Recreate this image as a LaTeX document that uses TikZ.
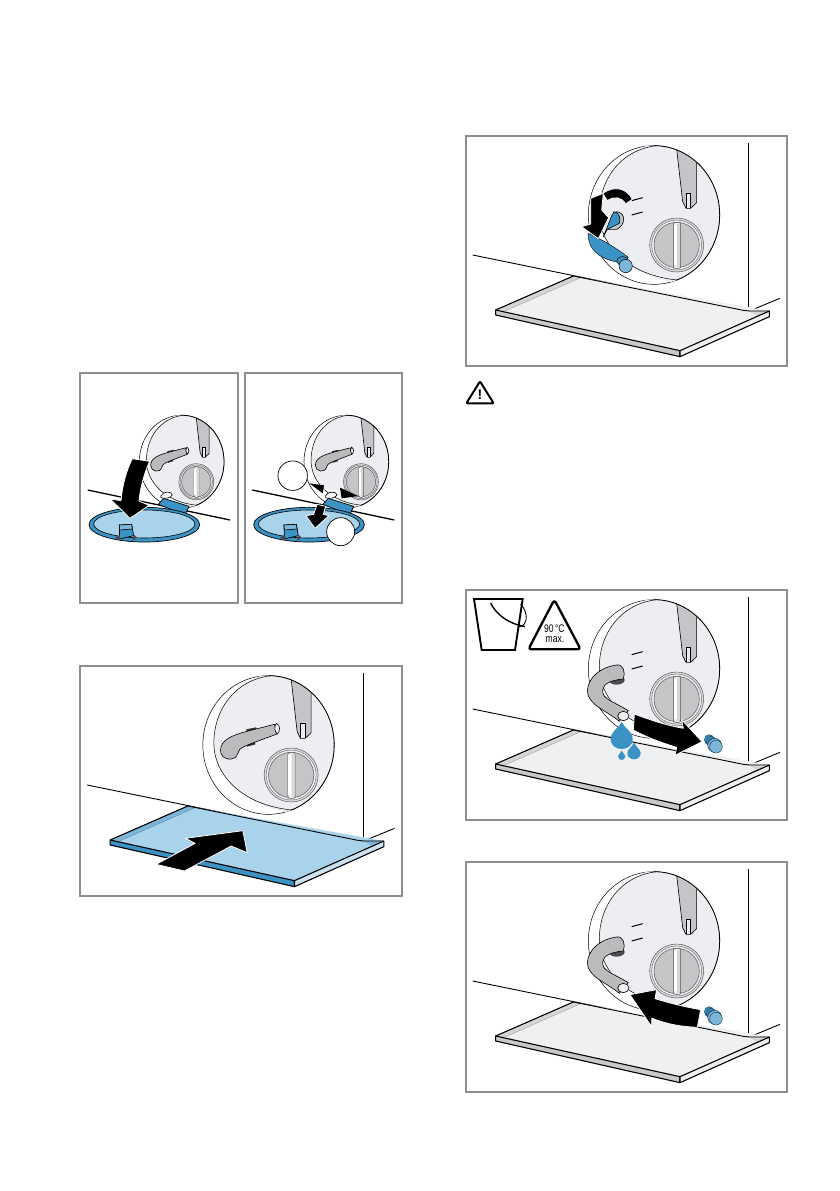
\documentclass[tikz,border=0pt]{standalone}
\usepackage{fontspec}
\setmainfont{Liberation Sans}
\definecolor{bodyGrey}{HTML}{ECEEF1}
\definecolor{dialGrey}{HTML}{C3C5C7}
\definecolor{hoseGrey}{HTML}{B9BBBD}
\definecolor{trayGrey}{HTML}{EFF0F2}
\definecolor{sideGrey}{HTML}{C8C9CB}
\definecolor{rimGrey}{HTML}{D4D5D7}
\definecolor{lightBlue}{HTML}{A9D3EA}
\definecolor{darkBlue}{HTML}{3B93C5}
\definecolor{midBlue}{HTML}{7DB6D8}
\definecolor{frameGrey}{HTML}{8E8E8E}
\tikzset{
    panelFrame/.style={draw=frameGrey, line width=2pt, fill=white},
    thinLine/.style={draw=black, line width=0.6pt},
    edgeLine/.style={draw=black, line width=1.1pt, line join=round},
    heavyLine/.style={draw=black, line width=1.9pt},
    blackArrow/.style={fill=black, draw=white, line width=0.8pt, line join=round},
    hosePart/.style={fill=hoseGrey, draw=black, line width=0.6pt, line join=round},
    plugPart/.style={draw=black!60!darkBlue, line width=0.4pt},
    dropPart/.style={fill=darkBlue}
}
% panel frame, in the 3x units of the art
\newcommand{\panelBox}{\draw[panelFrame] (17,18) rectangle (982,708);}
% wall and floor behind the tray
\newcommand{\roomLines}{
    \draw[thinLine] (865,40) -- (865,530);
    \draw[thinLine, line width=0.9pt] (38,375) -- (850,541) -- (868,543) -- (960,505);
}
% tray: top, front side, rim
\newcommand{\drainTray}[3]{
    \fill[#1] (107,540) -- (340,438) -- (928,543) -- (660,662) -- cycle;
    \fill[#3] (107,540) -- (340,438) -- (362,443) -- (135,543) -- cycle;
    \fill[#3] (860,541) -- (928,543) -- (893,558) -- cycle;
    \draw[#3!70!black, line width=0.3pt] (135,543) -- (362,443);
    \draw[edgeLine, fill=#2] (107,540) -- (107,555) -- (660,680) -- (660,662) -- cycle;
    \draw[edgeLine, fill=#3!40!white] (928,543) -- (928,560) -- (660,680) -- (660,662) -- cycle;
    \draw[edgeLine] (107,540) -- (340,438);
    \draw[thinLine, line width=0.9pt] (340,438) -- (850,541) -- (868,543) -- (928,543);
}
% round detail with lever and dial
\newcommand{\detailDisc}{
    \draw[thinLine, line width=0.5pt, fill=white] (582,255) ellipse [x radius=197, y radius=208];
    \begin{scope}
        \clip (582,255) ellipse [x radius=197, y radius=208];
        \fill[bodyGrey] (590,40) .. controls (480,60) and (418,150) .. (418,250) .. controls (418,340) and (500,445) .. (680,462) -- (800,462) -- (800,40) -- cycle;
        \draw[thinLine, line width=0.5pt] (590,47) .. controls (480,60) and (418,150) .. (418,250) .. controls (418,340) and (500,445) .. (680,452);
        \draw[hosePart, fill=dialGrey] (648,40) -- (668,215) -- (678,235) -- (692,235) -- (710,218) -- (710,40) -- cycle;
        \draw[thinLine, fill=bodyGrey] (678,235) -- (678,190) -- (692,190) -- (692,235);
    \end{scope}
    \draw[thinLine, line width=0.8pt] (582,47) arc [start angle=270, end angle=430, x radius=197, y radius=208];
    \draw[draw=black!65, line width=0.5pt, fill=dialGrey!55] (650,345) circle [radius=81];
    \draw[draw=black!55, line width=0.5pt, fill=bodyGrey] (650,345) circle [radius=75];
    \draw[draw=black!65, line width=0.5pt, fill=dialGrey] (650,345) circle [radius=68];
    \draw[draw=black!70, line width=0.5pt, fill=bodyGrey, rounded corners=2pt] (640,277) rectangle (662,415);
    \fill[dialGrey!70] (652,282) rectangle (661,410);
    \fill[white] (641,285) rectangle (650,405);
}
% hose held up against the back
\newcommand{\hoseClipped}{
    \fill[black!80] (515,208) -- (545,202) -- (548,212) -- (518,218) -- cycle;
    \fill[black!80] (515,250) -- (540,243) -- (543,253) -- (518,260) -- cycle;
    \draw[hosePart] (600,193) -- (525,212) .. controls (470,226) and (438,240) .. (438,272) .. controls (438,300) and (482,308) .. (490,280) .. controls (492,262) and (510,258) .. (608,222) -- cycle;
    \draw[hosePart, fill=bodyGrey] (606,190) .. controls (618,195) and (618,215) .. (608,222) .. controls (600,215) and (598,198) .. (606,190) -- cycle;
}
% two wall marks beside the socket
\newcommand{\wallMarks}{
    \draw[heavyLine, line width=1pt] (515,212) -- (548,203);
    \draw[heavyLine, line width=1pt] (515,255) -- (548,246);
}
% hose hanging down, open end
\newcommand{\hoseOpen}{
    \wallMarks
    \fill[black!70] (470,288) ellipse [x radius=24, y radius=14];
    \draw[hosePart] (470,243) .. controls (420,250) and (385,280) .. (382,320) .. controls (382,362) and (440,380) .. (478,412) -- (505,380) .. controls (460,352) and (425,345) .. (428,318) .. controls (430,298) and (455,288) .. (490,285) .. controls (497,265) and (490,240) .. (470,243) -- cycle;
    \draw[hosePart, fill=bodyGrey] (490,396) ellipse [x radius=17, y radius=14];
}
% drain plug lying free
\newcommand{\plugCap}{
    \foreach \plugX/\plugY in {748/467, 753/472, 758/477}{
        \draw[plugPart, fill=darkBlue] (\plugX,\plugY) circle [radius=15];
    }
    \draw[plugPart, fill=midBlue!80!darkBlue] (764,484) circle [radius=21];
    \draw[plugPart, fill=midBlue] (768,488) circle [radius=19];
}
% lid swung down under the detail
\newcommand{\lidOpen}{
    \draw[edgeLine, fill=darkBlue, line width=0.7pt] (250,418) -- (266,400) -- (342,424) -- (330,450) -- cycle;
    \draw[edgeLine, fill=darkBlue, line width=0.7pt] (208,479) ellipse [x radius=166, y radius=52];
    \draw[thinLine, fill=lightBlue] (208,477) ellipse [x radius=152, y radius=42];
    \draw[edgeLine, fill=darkBlue, line width=0.7pt] (133,480) -- (170,478) -- (176,512) -- (134,522) -- cycle;
    \fill[black!70] (120,518) -- (134,510) -- (136,526) -- cycle;
    \fill[black!70] (176,508) -- (186,518) -- (172,528) -- cycle;
    \draw[thinLine, fill=midBlue] (133,480) -- (170,478) -- (172,492) -- (134,495) -- cycle;
}

\begin{document}
\begin{tikzpicture}[x=1pt, y=-1pt]
    \useasboundingbox (0,0) rectangle (839,1191);

    % ── TOP LEFT PAIR
    \begin{scope}[shift={(75,365)}, scale=1/3]
        \draw[panelFrame] (15,23) rectangle (488,713);
        \draw[panelFrame] (510,23) rectangle (980,713);
        \draw[heavyLine, line width=1.3pt] (38,375) -- (465,465);
        \draw[heavyLine, line width=1.3pt] (532,375) -- (958,465);
        \foreach \shiftX in {0,494}{
            \begin{scope}[xshift=\shiftX pt]
                \begin{scope}[shift={(320,290)}, xscale=0.645, yscale=0.67, shift={(-582,-255)}]
                    \detailDisc
                    \hoseClipped
                \end{scope}
                \lidOpen
                \draw[thinLine, fill=white] (258,392) .. controls (265,378) and (290,378) .. (292,390) .. controls (285,400) and (270,402) .. (258,398) -- cycle;
            \end{scope}
        }
        \draw[blackArrow] (172,281) -- (224,289) .. controls (205,330) and (195,375) .. (192,408) -- (222,421) -- (165,460) -- (106,402) -- (138,407) .. controls (142,360) and (155,315) .. (172,281) -- cycle;
        \fill[black] (703,355) -- (747,361) -- (743,385) -- cycle;
        \fill[black] (795,368) -- (850,393) -- (800,400) -- cycle;
        \draw[white, line width=0.6pt] (745,372) -- (795,380);
        \draw[blackArrow] (726,418) -- (752,424) -- (745,448) -- (762,452) -- (720,490) -- (693,452) -- (716,448) -- cycle;
        \node[draw=black, line width=0.7pt, fill=white, circle, minimum size=29.5pt, inner sep=0pt] (markA) at (653,332) {};
        \node[draw=black, line width=0.7pt, fill=white, circle, minimum size=28pt, inner sep=0pt] (markB) at (797,500) {};
    \end{scope}

    % ── BLUE TRAY PANEL
    \begin{scope}[shift={(74.5,660)}, scale=1/3]
        \panelBox
        \roomLines
        \drainTray{lightBlue}{darkBlue}{midBlue}
        \detailDisc
        \hoseClipped
        \draw[blackArrow] (245,613) -- (362,550) -- (333,535) -- (505,512) -- (518,578) -- (470,558) -- (330,633) -- cycle;
    \end{scope}

    % ── HOSE PULLED OUT PANEL
    \begin{scope}[shift={(460,130)}, scale=1/3]
        \panelBox
        \roomLines
        \drainTray{trayGrey}{sideGrey}{rimGrey}
        \detailDisc
        \wallMarks
        \draw[hosePart, fill=dialGrey] (470,245) .. controls (498,248) and (498,285) .. (470,298) -- (440,298) -- cycle;
        \draw[hosePart, fill=darkBlue] (462,245) .. controls (480,248) and (482,268) .. (478,280) -- (442,298) -- (430,320) -- (455,258) -- cycle;
        \draw[hosePart, fill=darkBlue, line width=0.4pt] (384,310) .. controls (430,330) and (470,355) .. (505,382) -- (478,398) .. controls (440,390) and (385,375) .. (384,310) -- cycle;
        \draw[hosePart, fill=darkBlue, line width=0.5pt] (488,393) ellipse [x radius=18, y radius=13];
        \draw[hosePart, fill=midBlue, line width=0.5pt] (497,408) ellipse [x radius=20, y radius=20];
        \draw[blackArrow] (517,208) .. controls (500,175) and (465,165) .. (428,190) -- (442,212) .. controls (462,198) and (485,200) .. (497,222) -- cycle;
        \draw[blackArrow] (392,205) -- (430,190) -- (425,240) -- (446,263) -- (415,326) -- (365,290) -- (392,282) -- cycle;
        % warning sign below the frame
        \draw[line width=2pt, line join=round, rounded corners=1pt] (60,754) -- (101,820) -- (19,820) -- cycle;
        \node[font=\bfseries\fontsize{14}{14}\selectfont] (warnMark) at (60,793) {!};
    \end{scope}

    % ── BUCKET PANEL
    \begin{scope}[shift={(460,584)}, scale=1/3]
        \panelBox
        \roomLines
        \drainTray{trayGrey}{sideGrey}{rimGrey}
        \detailDisc
        \hoseOpen
        \plugCap
        \draw[blackArrow] (523,390) .. controls (575,410) and (625,425) .. (670,433) -- (665,407) -- (726,473) -- (645,514) -- (650,490) .. controls (600,475) and (550,455) .. (520,438) -- cycle;
        \path[dropPart] (485,413) .. controls (480,430) and (452,440) .. (452,465) .. controls (452,505) and (518,505) .. (518,465) .. controls (518,440) and (490,430) .. (485,413) -- cycle;
        \path[dropPart] (522,473) .. controls (518,490) and (502,495) .. (502,507) .. controls (502,532) and (542,532) .. (542,507) .. controls (542,495) and (526,490) .. (522,473) -- cycle;
        \path[dropPart] (485,500) .. controls (483,508) and (474,510) .. (474,516) .. controls (474,532) and (496,532) .. (496,516) .. controls (496,510) and (487,508) .. (485,500) -- cycle;
        % bucket and temperature sign
        \draw[line width=1.9pt, line join=miter] (42,45) -- (188,45) -- (165,198) -- (65,198) -- cycle;
        \draw[line width=1.4pt] (92,57) .. controls (110,95) and (150,120) .. (195,128);
        \draw[line width=0.9pt] (182,60) .. controls (205,85) and (205,125) .. (178,128);
        \draw[line width=2.3pt, line join=round, rounded corners=3pt] (283,47) -- (362,196) -- (205,196) -- cycle;
        \node[font=\fontsize{11}{11}\selectfont, xscale=0.78] (tempText) at (283,135) {90\,°C};
        \node[font=\fontsize{11}{11}\selectfont, xscale=0.78] (maxText) at (285,168) {max.};
    \end{scope}

    % ── HOSE BACK IN PANEL
    \begin{scope}[shift={(460,856)}, scale=1/3]
        \panelBox
        \roomLines
        \drainTray{trayGrey}{sideGrey}{rimGrey}
        \detailDisc
        \hoseOpen
        \plugCap
        \draw[blackArrow] (722,461) .. controls (670,452) and (625,440) .. (585,428) -- (590,401) -- (510,416) -- (575,512) -- (575,486) .. controls (620,505) and (665,512) .. (712,514) -- cycle;
    \end{scope}
\end{tikzpicture}
\end{document}
